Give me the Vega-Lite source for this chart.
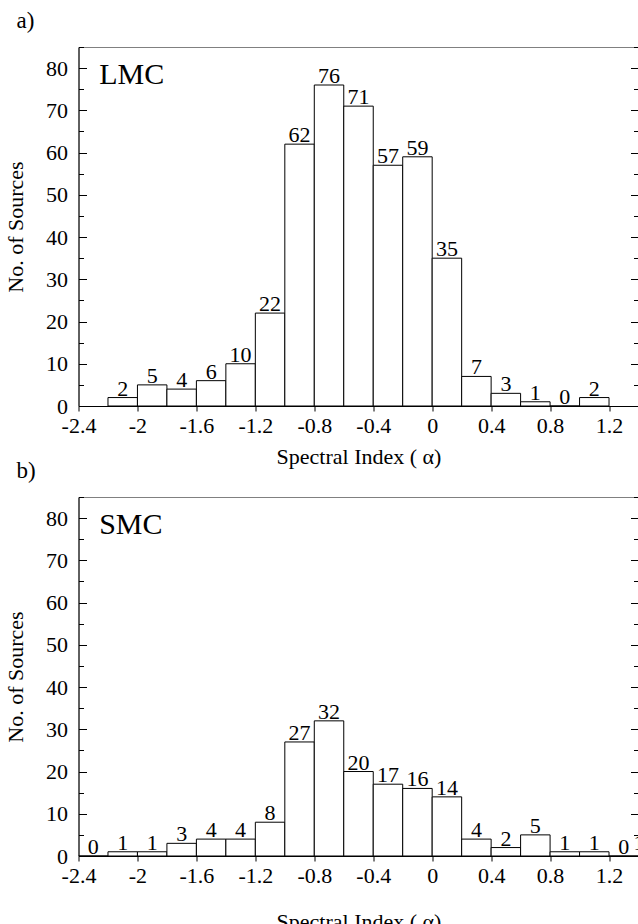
{
  "$schema": "https://vega.github.io/schema/vega-lite/v6.json",
  "background": "white",
  "padding": {"left": 3.5, "top": 9, "right": 0, "bottom": 0},
  "config": {
    "font": "Liberation Serif",
    "view": {"stroke": "#808080", "strokeWidth": 1},
    "axis": {"labelFont": "Liberation Serif", "titleFont": "Liberation Serif", "labelFontSize": 22, "titleFontSize": 22, "titleFontWeight": "normal", "labelColor": "black", "titleColor": "black", "domainColor": "black", "tickColor": "black", "grid": false},
    "title": {"font": "Liberation Serif", "fontSize": 23, "fontWeight": "normal", "anchor": "start", "frame": "group", "color": "black"},
    "text": {"font": "Liberation Serif", "color": "black"}
  },
  "datasets": {
    "lmc": [
      {"lo": -2.2, "hi": -2.0, "n": 2}, {"lo": -2.0, "hi": -1.8, "n": 5}, {"lo": -1.8, "hi": -1.6, "n": 4},
      {"lo": -1.6, "hi": -1.4, "n": 6}, {"lo": -1.4, "hi": -1.2, "n": 10}, {"lo": -1.2, "hi": -1.0, "n": 22},
      {"lo": -1.0, "hi": -0.8, "n": 62}, {"lo": -0.8, "hi": -0.6, "n": 76}, {"lo": -0.6, "hi": -0.4, "n": 71},
      {"lo": -0.4, "hi": -0.2, "n": 57}, {"lo": -0.2, "hi": 0.0, "n": 59}, {"lo": 0.0, "hi": 0.2, "n": 35},
      {"lo": 0.2, "hi": 0.4, "n": 7}, {"lo": 0.4, "hi": 0.6, "n": 3}, {"lo": 0.6, "hi": 0.8, "n": 1},
      {"lo": 0.8, "hi": 1.0, "n": 0}, {"lo": 1.0, "hi": 1.2, "n": 2}
    ],
    "smc": [
      {"lo": -2.4, "hi": -2.2, "n": 0}, {"lo": -2.2, "hi": -2.0, "n": 1}, {"lo": -2.0, "hi": -1.8, "n": 1},
      {"lo": -1.8, "hi": -1.6, "n": 3}, {"lo": -1.6, "hi": -1.4, "n": 4}, {"lo": -1.4, "hi": -1.2, "n": 4},
      {"lo": -1.2, "hi": -1.0, "n": 8}, {"lo": -1.0, "hi": -0.8, "n": 27}, {"lo": -0.8, "hi": -0.6, "n": 32},
      {"lo": -0.6, "hi": -0.4, "n": 20}, {"lo": -0.4, "hi": -0.2, "n": 17}, {"lo": -0.2, "hi": 0.0, "n": 16},
      {"lo": 0.0, "hi": 0.2, "n": 14}, {"lo": 0.2, "hi": 0.4, "n": 4}, {"lo": 0.4, "hi": 0.6, "n": 2},
      {"lo": 0.6, "hi": 0.8, "n": 5}, {"lo": 0.8, "hi": 1.0, "n": 1}, {"lo": 1.0, "hi": 1.2, "n": 1},
      {"lo": 1.2, "hi": 1.4, "n": 0}, {"lo": 1.4, "hi": 1.6, "n": 1}
    ]
  },
  "spacing": 91,
  "bounds": "flush",
  "vconcat": [
    {
      "width": 560, "height": 359,
      "title": {"text": "a)", "dx": -62, "offset": 14},
      "layer": [
        {
          "data": {"name": "lmc"},
          "mark": {"type": "bar", "fill": "white", "stroke": "black", "strokeWidth": 1, "clip": true},
          "encoding": {
            "x": {"field": "lo", "type": "quantitative", "scale": {"domain": [-2.4, 1.4], "nice": false, "zero": false},
              "axis": {"values": [-2.4, -2, -1.6, -1.2, -0.8, -0.4, 0, 0.4, 0.8, 1.2], "labelExpr": "'' + datum.value", "tickSize": 5, "labelPadding": 4, "title": "Spectral Index ( α)", "titlePadding": 10, "labelFlush": false, "labelOverlap": false}},
            "x2": {"field": "hi"},
            "y": {"field": "n", "type": "quantitative", "scale": {"domain": [0, 85], "nice": false},
              "axis": {"values": [0, 10, 20, 30, 40, 50, 60, 70, 80], "ticks": false, "labelPadding": 11, "title": "No. of Sources", "titlePadding": 18}},
            "y2": {"datum": 0}
          }
        },
        {
          "data": {"name": "lmc"},
          "mark": {"type": "text", "baseline": "alphabetic", "align": "center", "dx": 14.75, "dy": -2, "fontSize": 22},
          "encoding": {
            "x": {"field": "lo", "type": "quantitative", "scale": {"domain": [-2.4, 1.4], "nice": false, "zero": false}, "axis": null},
            "y": {"field": "n", "type": "quantitative", "scale": {"domain": [0, 85], "nice": false},
              "axis": {"orient": "left", "values": [0, 5, 10, 15, 20, 25, 30, 35, 40, 45, 50, 55, 60, 65, 70, 75, 80, 85], "labels": false, "domain": false, "title": null,
                "tickSize": {"condition": {"test": "datum.value % 10 === 0", "value": -8}, "value": -5}}},
            "text": {"field": "n", "type": "quantitative"}
          }
        },
        {
          "data": {"values": [{"ax": -2.26, "ay": 76.3, "label": "LMC"}]},
          "mark": {"type": "text", "align": "left", "baseline": "alphabetic", "fontSize": 30},
          "encoding": {
            "x": {"field": "ax", "type": "quantitative", "scale": {"domain": [-2.4, 1.4], "nice": false, "zero": false}, "axis": null},
            "y": {"field": "ay", "type": "quantitative", "scale": {"domain": [0, 85], "nice": false},
              "axis": {"orient": "right", "values": [0, 5, 10, 15, 20, 25, 30, 35, 40, 45, 50, 55, 60, 65, 70, 75, 80, 85], "labels": false, "domain": false, "title": null,
                "tickSize": {"condition": {"test": "datum.value % 10 === 0", "value": -8}, "value": -5}}},
            "text": {"field": "label", "type": "nominal"}
          }
        }
      ],
      "resolve": {"axis": {"x": "independent", "y": "independent"}}
    },
    {
      "width": 560, "height": 359,
      "title": {"text": "b)", "dx": -62, "offset": 14},
      "layer": [
        {
          "data": {"name": "smc"},
          "mark": {"type": "bar", "fill": "white", "stroke": "black", "strokeWidth": 1, "clip": true},
          "encoding": {
            "x": {"field": "lo", "type": "quantitative", "scale": {"domain": [-2.4, 1.4], "nice": false, "zero": false},
              "axis": {"values": [-2.4, -2, -1.6, -1.2, -0.8, -0.4, 0, 0.4, 0.8, 1.2], "labelExpr": "'' + datum.value", "tickSize": 5, "labelPadding": 4, "title": "Spectral Index ( α)", "titlePadding": 25, "labelFlush": false, "labelOverlap": false}},
            "x2": {"field": "hi"},
            "y": {"field": "n", "type": "quantitative", "scale": {"domain": [0, 85], "nice": false},
              "axis": {"values": [0, 10, 20, 30, 40, 50, 60, 70, 80], "ticks": false, "labelPadding": 11, "title": "No. of Sources", "titlePadding": 18}},
            "y2": {"datum": 0}
          }
        },
        {
          "data": {"name": "smc"},
          "transform": [{"filter": "datum.lo < 1.3"}],
          "mark": {"type": "text", "baseline": "alphabetic", "align": "center", "dx": 14.75, "dy": -2, "fontSize": 22},
          "encoding": {
            "x": {"field": "lo", "type": "quantitative", "scale": {"domain": [-2.4, 1.4], "nice": false, "zero": false}, "axis": null},
            "y": {"field": "n", "type": "quantitative", "scale": {"domain": [0, 85], "nice": false},
              "axis": {"orient": "left", "values": [0, 5, 10, 15, 20, 25, 30, 35, 40, 45, 50, 55, 60, 65, 70, 75, 80, 85], "labels": false, "domain": false, "title": null,
                "tickSize": {"condition": {"test": "datum.value % 10 === 0", "value": -8}, "value": -5}}},
            "text": {"field": "n", "type": "quantitative"}
          }
        },
        {
          "data": {"name": "smc"},
          "transform": [{"filter": "datum.lo > 1.3"}],
          "mark": {"type": "text", "baseline": "alphabetic", "align": "left", "dx": -5, "dy": -2, "fontSize": 22},
          "encoding": {
            "x": {"field": "lo", "type": "quantitative", "scale": {"domain": [-2.4, 1.4], "nice": false, "zero": false}, "axis": null},
            "y": {"field": "n", "type": "quantitative", "scale": {"domain": [0, 85], "nice": false}, "axis": null},
            "text": {"field": "n", "type": "quantitative"}
          }
        },
        {
          "data": {"values": [{"ax": -2.26, "ay": 76.3, "label": "SMC"}]},
          "mark": {"type": "text", "align": "left", "baseline": "alphabetic", "fontSize": 30},
          "encoding": {
            "x": {"field": "ax", "type": "quantitative", "scale": {"domain": [-2.4, 1.4], "nice": false, "zero": false}, "axis": null},
            "y": {"field": "ay", "type": "quantitative", "scale": {"domain": [0, 85], "nice": false},
              "axis": {"orient": "right", "values": [0, 5, 10, 15, 20, 25, 30, 35, 40, 45, 50, 55, 60, 65, 70, 75, 80, 85], "labels": false, "domain": false, "title": null,
                "tickSize": {"condition": {"test": "datum.value % 10 === 0", "value": -8}, "value": -5}}},
            "text": {"field": "label", "type": "nominal"}
          }
        }
      ],
      "resolve": {"axis": {"x": "independent", "y": "independent"}}
    }
  ]
}
